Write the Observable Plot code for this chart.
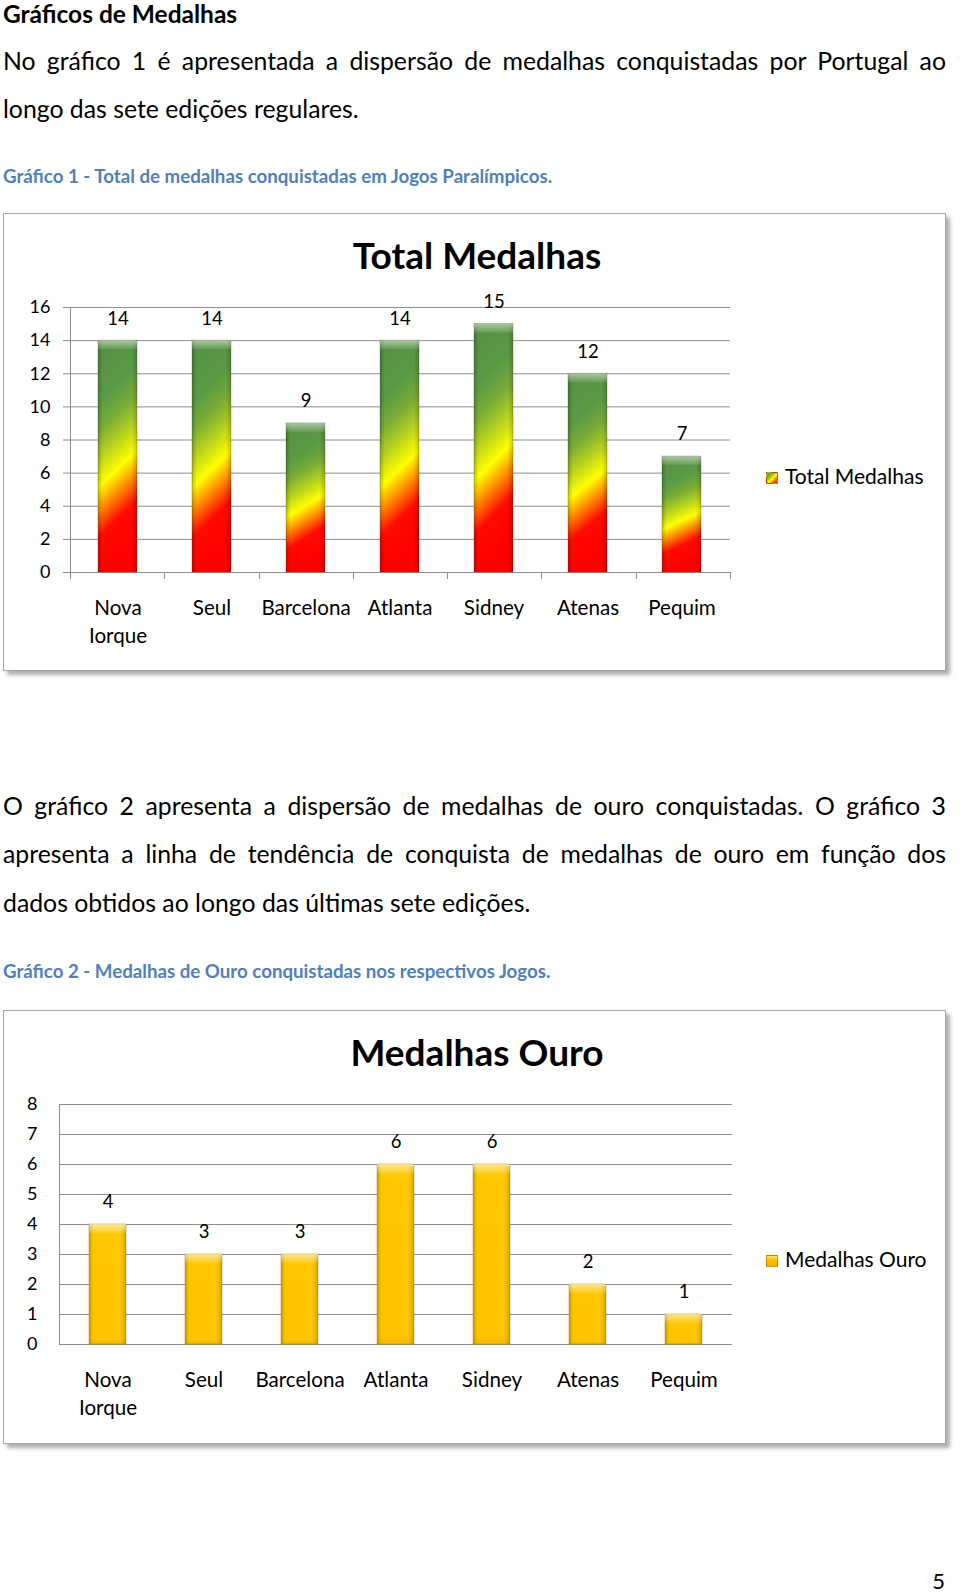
<!DOCTYPE html>
<html><head><meta charset="utf-8">
<script src="https://cdn.jsdelivr.net/npm/d3@7"></script>
<script src="https://cdn.jsdelivr.net/npm/@observablehq/plot@0.6"></script>
<style>
body{margin:0;background:#fff;font-family:Lato,"Open Sans",sans-serif;color:#000;}
.page{position:relative;width:960px;height:1594px;overflow:hidden;background:#fff}
.t{position:absolute;white-space:nowrap;line-height:1.2;}
.body{font-size:24.8px;left:3px;}
.just{width:943px;white-space:normal;text-align:justify;text-align-last:justify;}
.cap{font-size:18.7px;font-weight:bold;color:#4f81bd;left:3px;}
.frame{position:absolute;left:3px;width:943px;border:1px solid #a6a6a6;box-sizing:border-box;background:#fff;box-shadow:4px 4px 4px rgba(0,0,0,0.32);}
.title{position:absolute;left:3px;width:948px;text-align:center;font-weight:bold;font-size:37px;line-height:1.2;white-space:nowrap}
.leg{position:absolute;font-size:21px;line-height:1.2;white-space:nowrap}
.sw{position:absolute;box-sizing:border-box}
.chart{position:absolute;left:3px;}
</style></head>
<body><div class="page" id="page">
<div class="t" style="left:3px;top:2px;font-size:24.5px;line-height:24.5px;font-weight:bold">Gráficos de Medalhas</div>
<div class="t body just" style="top:45.5px">No gráfico 1 é apresentada a dispersão de medalhas conquistadas por Portugal ao</div>
<div class="t body" style="top:93.5px">longo das sete edições regulares.</div>
<div class="t cap" style="top:164.5px">Gráfico 1 - Total de medalhas conquistadas em Jogos Paralímpicos.</div>

<div class="frame" style="top:213px;height:458px"></div>
<div class="title" style="top:232.5px">Total Medalhas</div>
<div class="sw" style="left:766px;top:472px;width:12px;height:12px;background:linear-gradient(135deg,#4f9a3c 0%,#9ac020 35%,#ffff00 55%,#ff7000 75%,#ff0000 100%);border:1px solid rgba(0,0,0,0.2)"></div>
<div class="leg" style="left:785px;top:463px">Total Medalhas</div>
<div class="chart" id="c1" style="top:213px"></div>

<div class="t body just" style="top:791px">O gráfico 2 apresenta a dispersão de medalhas de ouro conquistadas. O gráfico 3</div>
<div class="t body just" style="top:839px">apresenta a linha de tendência de conquista de medalhas de ouro em função dos</div>
<div class="t body" style="top:888px">dados obtidos ao longo das últimas sete edições.</div>
<div class="t cap" style="top:959.5px">Gráfico 2 - Medalhas de Ouro conquistadas nos respectivos Jogos.</div>

<div class="frame" style="top:1010px;height:434px"></div>
<div class="title" style="top:1029.5px">Medalhas Ouro</div>
<div class="sw" style="left:766px;top:1255px;width:12px;height:12px;background:linear-gradient(180deg,#ffe070 0%,#ffc000 40%,#f0b000 100%);border:1px solid rgba(120,90,0,0.45)"></div>
<div class="leg" style="left:785px;top:1246px">Medalhas Ouro</div>
<div class="chart" id="c2" style="top:1010px"></div>

<div class="t" style="right:15px;top:1571px;font-size:22px;line-height:20px">5</div>
</div>
<script>
const edicoes = ["Nova Iorque", "Seul", "Barcelona", "Atlanta", "Sidney", "Atenas", "Pequim"];
const totalMedalhas = [14, 14, 9, 14, 15, 12, 7];
const medalhasOuro = [4, 3, 3, 6, 6, 2, 1];
const ticksTotal = [0, 2, 4, 6, 8, 10, 12, 14, 16];
const ticksOuro = [0, 1, 2, 3, 4, 5, 6, 7, 8];

const GRID = "#8e8e8e";

function decor(n, bottomTicks) {
  return (index, scales, values, dim) => {
    const g = d3.create("svg:g").attr("stroke", GRID).attr("stroke-width", 1).attr("fill", "none");
    const x0 = dim.marginLeft, x1 = dim.width - dim.marginRight;
    const y0 = dim.marginTop, y1 = dim.height - dim.marginBottom;
    g.append("line").attr("x1", x0 + 0.5).attr("x2", x0 + 0.5).attr("y1", y0).attr("y2", y1 + 0.5);
    if (bottomTicks) {
      const step = (x1 - x0) / n;
      for (let i = 0; i <= n; i++) {
        const x = Math.round(x0 + step * i) + 0.5;
        g.append("line").attr("x1", x).attr("x2", x).attr("y1", y1).attr("y2", y1 + 7);
      }
    }
    return g.node();
  };
}

function addDefs(svg, id, stops, vec) {
  const defs = d3.select(svg).append("defs");
  const lg = defs.append("linearGradient").attr("id", id)
    .attr("x1", vec[0]).attr("y1", vec[1]).attr("x2", vec[2]).attr("y2", vec[3]);
  stops.forEach(([o, c]) => lg.append("stop").attr("offset", o).attr("stop-color", c));
  const bev = defs.append("linearGradient").attr("id", id + "-bevel").attr("x1", 0).attr("y1", 0).attr("x2", 0).attr("y2", 1);
  bev.append("stop").attr("offset", 0).attr("stop-color", "#fff").attr("stop-opacity", 0.5);
  bev.append("stop").attr("offset", 1).attr("stop-color", "#fff").attr("stop-opacity", 0.08);
  const side = defs.append("linearGradient").attr("id", id + "-side").attr("x1", 0).attr("y1", 0).attr("x2", 1).attr("y2", 0);
  [[0, 0.2], [0.12, 0], [0.86, 0], [1, 0.18]].forEach(([o, a]) =>
    side.append("stop").attr("offset", o).attr("stop-color", "#000").attr("stop-opacity", a));
  const f = defs.append("filter").attr("id", id + "-shadow").attr("x", "-20%").attr("y", "-10%").attr("width", "160%").attr("height", "130%");
  f.append("feDropShadow").attr("dx", 4).attr("dy", 2).attr("stdDeviation", 2.5)
    .attr("flood-color", "#000").attr("flood-opacity", 0.3);
}

function chart({values, yTicks, height, margins, padding, id, tickSizeY, tickPaddingY, bottomTicks, stroke}) {
  const data = edicoes.map((e, i) => ({e, v: values[i]}));
  const svg = Plot.plot({
    width: 943, height, ...margins,
    style: {fontFamily: "Lato, sans-serif", fontSize: "18px", color: "#000", background: "transparent", overflow: "visible"},
    x: {domain: edicoes, paddingInner: padding, paddingOuter: padding / 2, align: 0.5, label: null},
    y: {domain: [0, yTicks[yTicks.length - 1]], label: null},
    marks: [
      Plot.gridY({ticks: yTicks, stroke: GRID, strokeOpacity: 1}),
      decor(edicoes.length, bottomTicks),
      Plot.barY(data, {x: "e", y: "v", fill: `url(#${id})`, stroke, strokeWidth: 0.7, ariaLabel: "mainbars"}),
      Plot.barY(data, {x: "e", y: "v", fill: `url(#${id}-side)`}),
      Plot.barY(data, {x: "e", y1: "v", y2: "v", insetBottom: -9, fill: `url(#${id}-bevel)`}),
      Plot.text(data, {x: "e", y: "v", text: d => String(d.v), dy: -22, lineAnchor: "middle", fontSize: 18.5, fill: "#000"}),
      Plot.axisY({ticks: yTicks, tickSize: tickSizeY, tickPadding: tickPaddingY, fontSize: 18, stroke: GRID, fill: "#000", label: null}),
      Plot.axisX({tickSize: 0, tickPadding: 23.5, fontSize: 20.6, fill: "#000", label: null, lineHeight: 1.33,
        tickFormat: d => d.replace(" ", "\n")})
    ]
  });
  return svg;
}

// Chart 1
const svg1 = chart({
  values: totalMedalhas, yTicks: ticksTotal, height: 458,
  margins: {marginLeft: 67, marginRight: 216, marginTop: 94, marginBottom: 99},
  padding: 0.58, id: "g1", tickSizeY: 7, tickPaddingY: 13, bottomTicks: true, stroke: "rgba(60,40,0,0.35)"
});
addDefs(svg1, "g1", [
  [0, "#ff0000"], [0.17, "#ff0a00"], [0.28, "#ff8a00"], [0.38, "#ffff00"],
  [0.5, "#b8d21e"], [0.62, "#78ac36"], [0.74, "#5a9a44"], [1, "#558f47"]
], [0.16, 1, 0, 0]);
d3.select(svg1).select('g[aria-label="mainbars"]').attr("filter", "url(#g1-shadow)");
document.getElementById("c1").appendChild(svg1);

// Chart 2
const svg2 = chart({
  values: medalhasOuro, yTicks: ticksOuro, height: 434,
  margins: {marginLeft: 56, marginRight: 214, marginTop: 94, marginBottom: 100},
  padding: 0.61, id: "g2", tickSizeY: 0, tickPaddingY: 22, bottomTicks: false, stroke: "rgba(150,110,0,0.55)"
});
addDefs(svg2, "g2", [
  [0, "#f5b800"], [0.05, "#ffc400"], [0.9, "#ffc800"], [1, "#ffcf20"]
], [0, 1, 0, 0]);
d3.select(svg2).select('g[aria-label="mainbars"]').attr("filter", "url(#g2-shadow)");
document.getElementById("c2").appendChild(svg2);
</script>
</body></html>
